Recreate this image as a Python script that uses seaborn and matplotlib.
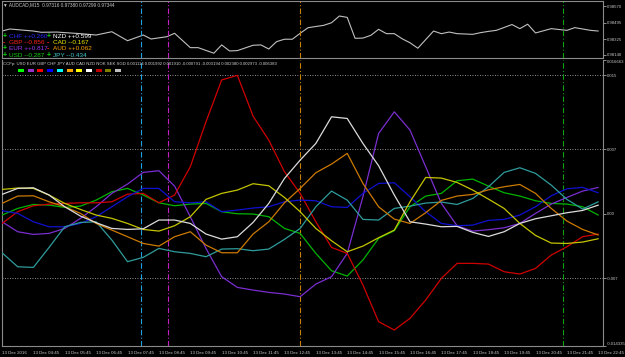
import matplotlib
matplotlib.use("Agg")
import matplotlib.pyplot as plt
import seaborn as sns
import pandas as pd
from matplotlib.patches import Rectangle

sns.set_theme(style="dark")
plt.rcParams['font.family'] = ['Liberation Sans', 'DejaVu Sans']

# ---------------- data ----------------
bars = list(range(0, 77, 2))  # M15 bar index

USD = [-0.00016, 0.00056, 0.00099, 0.00092, 0.00067, 0.00081, 0.00146, 0.00237, 0.00273, 0.00201,
       0.00117, 0.00085, 0.00103, 0.00110, 0.00020, -0.00002, -0.00005, -0.00034, -0.00161, -0.00215,
       -0.00432, -0.00620, -0.00678, -0.00504, -0.00269, -0.00186, 0.00074, 0.00190, 0.00219, 0.00356,
       0.00374, 0.00298, 0.00226, 0.00190, 0.00139, 0.00110, 0.00103, 0.00074, -0.00016]
EUR = [-0.00089, -0.00197, -0.00226, -0.00215, -0.00161, -0.00052, 0.00074, 0.00219, 0.00320, 0.00447,
       0.00465, 0.00298, -0.00034, -0.00378, -0.00685, -0.00801, -0.00830, -0.00855, -0.00873, -0.00902,
       -0.00765, -0.00685, -0.00432, 0.00183, 0.00869, 0.01104, 0.00906, 0.00508, 0.00110, -0.00132,
       -0.00190, -0.00175, -0.00154, -0.00107, 0.00002, 0.00103, 0.00175, 0.00244, 0.00284]
GBP = [-0.00107, 0.00020, 0.00085, 0.00103, 0.00110, 0.00117, 0.00117, 0.00128, 0.00211, 0.00219,
       0.00117, 0.00201, 0.00508, 0.00996, 0.01450, 0.01500, 0.01057, 0.00797, 0.00454, 0.00219,
       -0.00089, -0.00367, -0.00432, -0.00775, -0.01173, -0.01263, -0.01137, -0.00938, -0.00703, -0.00540,
       -0.00540, -0.00548, -0.00631, -0.00656, -0.00595, -0.00450, -0.00360, -0.00251, -0.00222]
CHF = [0.00031, 0.00002, -0.00089, -0.00143, -0.00143, -0.00107, -0.00034, 0.00074, 0.00183, 0.00273,
       0.00273, 0.00128, 0.00117, 0.00128, 0.00020, 0.00038, 0.00060, 0.00074, 0.00128, 0.00146,
       0.00139, 0.00074, 0.00067, 0.00219, 0.00327, 0.00334, 0.00183, 0.00020, -0.00107, -0.00132,
       -0.00125, -0.00074, -0.00063, -0.00016, 0.00074, 0.00193, 0.00269, 0.00284, 0.00226]
JPY = [-0.00425, -0.00577, -0.00584, -0.00367, -0.00143, -0.00096, -0.00089, -0.00287, -0.00522, -0.00475,
       -0.00378, -0.00414, -0.00432, -0.00468, -0.00385, -0.00381, -0.00403, -0.00385, -0.00280, -0.00161,
       0.00074, 0.00244, 0.00146, -0.00063, -0.00070, 0.00056, 0.00081, 0.00114, 0.00125, 0.00099,
       0.00164, 0.00291, 0.00447, 0.00497, 0.00436, 0.00309, 0.00154, 0.00049, 0.00128]
AUD = [0.00110, 0.00190, 0.00193, 0.00128, 0.00074, 0.00002, -0.00107, -0.00179, -0.00251, -0.00324,
       -0.00353, -0.00251, -0.00197, -0.00342, -0.00425, -0.00425, -0.00222, -0.00089, 0.00117, 0.00273,
       0.00443, 0.00537, 0.00653, 0.00327, 0.00074, -0.00060, -0.00107, 0.00009, 0.00143, 0.00190,
       0.00208, 0.00258, 0.00291, 0.00316, 0.00219, 0.00056, -0.00081, -0.00172, -0.00233]
CAD = [0.00262, 0.00277, 0.00273, 0.00201, 0.00110, 0.00045, -0.00016, -0.00052, -0.00107, -0.00172,
       -0.00190, -0.00132, -0.00034, 0.00154, 0.00219, 0.00255, 0.00324, 0.00302, 0.00175, 0.00020,
       -0.00161, -0.00295, -0.00414, -0.00353, -0.00262, -0.00179, 0.00128, 0.00392, 0.00385, 0.00338,
       0.00255, 0.00157, 0.00056, -0.00107, -0.00237, -0.00320, -0.00324, -0.00309, -0.00273]
NZD = [0.00208, 0.00273, 0.00280, 0.00201, 0.00074, -0.00027, -0.00099, -0.00161, -0.00172, -0.00165,
       -0.00070, -0.00070, -0.00107, -0.00222, -0.00277, -0.00251, -0.00096, 0.00110, 0.00381, 0.00580,
       0.00761, 0.01050, 0.01032, 0.00761, 0.00519, 0.00201, -0.00089, -0.00114, -0.00143, -0.00139,
       -0.00204, -0.00248, -0.00197, -0.00107, -0.00056, -0.00024, 0.00009, 0.00034, 0.00092]

price_bars = [0, 1, 2, 4, 5, 7, 8, 10, 12, 14, 16, 18, 19, 21, 22, 24, 25, 27, 28, 29, 30, 32,
              33, 34, 35, 36, 37, 38, 39, 40, 41, 42, 43, 44, 45, 46, 47, 48, 49, 50, 51, 52, 53,
              55, 56, 57, 58, 60, 61, 62, 63, 65, 66, 67, 68, 70, 72, 73, 75, 76]
AUDCAD = [0.98350, 0.98368, 0.98362, 0.98350, 0.98339, 0.98341, 0.98336, 0.98327, 0.98315, 0.98344,
          0.98265, 0.98315, 0.98280, 0.98300, 0.98330, 0.98204, 0.98204, 0.98155, 0.98228, 0.98175,
          0.98178, 0.98225, 0.98228, 0.98192, 0.98257, 0.98278, 0.98278, 0.98330, 0.98379, 0.98390,
          0.98400, 0.98423, 0.98482, 0.98470, 0.98286, 0.98288, 0.98312, 0.98365, 0.98327, 0.98327,
          0.98282, 0.98247, 0.98199, 0.98350, 0.98327, 0.98341, 0.98327, 0.98321, 0.98336, 0.98347,
          0.98356, 0.98407, 0.98371, 0.98410, 0.98333, 0.98371, 0.98356, 0.98380, 0.98356, 0.98350]

xtick_bars = list(range(0, 77, 4))
xtick_labels = ["13 Dec 2016", "13 Dec 04:45", "13 Dec 05:45", "13 Dec 06:45", "13 Dec 07:45",
                "13 Dec 08:45", "13 Dec 09:45", "13 Dec 10:45", "13 Dec 11:45", "13 Dec 12:45",
                "13 Dec 13:45", "13 Dec 14:45", "13 Dec 15:45", "13 Dec 16:45", "13 Dec 17:45",
                "13 Dec 18:45", "13 Dec 19:45", "13 Dec 20:45", "13 Dec 21:45", "13 Dec 22:45"]
main_ticks = [0.016663, 0.015, 0.007, 0.0, -0.007, -0.014335]
main_tick_labels = ["0.016663", "0.015", "0.007", "0.00", "-0.007", "-0.014335"]
top_ticks = [0.98570, 0.98423, 0.98278, 0.98140]
top_tick_labels = ["0.98570", "0.98495", "0.98325", "0.98140"]
levels = [0.015, 0.007, -0.007]
event_bars = [17.7, 21.1, 38.0, 71.5]
event_colors = ["#1e9fe0", "#c020c0", "#c88000", "#10a010"]

legend_rows = [
    [("+", "CHF ++0.260"), ("+", "NZD ++0.599")],
    [("-", "GBP --0.856"), ("-", "CAD --0.167")],
    [("+", "EUR ++0.817"), ("-", "AUD ++0.062")],
    [("+", "USD --0.287"), ("+", "JPY --0.434")],
]
legend_colors = [["#2a2aff", "#ffffff"], ["#ff2020", "#e8e800"],
                 ["#9a3aee", "#ffa000"], ["#10d010", "#40c8c8"]]

header = ("CCFp: USD EUR GBP CHF JPY AUD CAD NZD NOK SEK SGD 0.001114 0.001992 0.001910 "
          "-0.000791 -0.003194 0.002380 0.002973 -0.006383")
box_colors = ["#00ff00", "#9932cc", "#ff0000", "#0000ff", "#00ffff", "#ffa500",
              "#ffff00", "#ffffff", "#c00000", "#808000", "#c0c0c0"]

palette = {"USD": "#00b400", "EUR": "#7a2ed0", "GBP": "#d00000", "CHF": "#1010d0",
           "JPY": "#2f9c9c", "AUD": "#cc7a00", "CAD": "#c4c400", "NZD": "#dcdcdc"}

# ---------------- figure ----------------
W, H = 625, 357
BG = "black"
FG = "#c8c8c8"
SP = "#8a8a8a"
fig = plt.figure(figsize=(W / 100, H / 100), dpi=100, facecolor=BG)


def rect(x0, y0, x1, y1):
    return [x0 / W, 1 - y1 / H, (x1 - x0) / W, (y1 - y0) / H]


ax_top = fig.add_axes(rect(2, 1, 603, 58))
ax = fig.add_axes(rect(2, 60, 603, 345.7))

for a in (ax_top, ax):
    a.set_facecolor(BG)
    for s in a.spines.values():
        s.set_color(SP)
        s.set_linewidth(0.8)
    a.set_xlim(0, 76.6)
    a.grid(False)

# top price panel
price_df = pd.DataFrame({"bar": price_bars, "price": AUDCAD})
sns.lineplot(data=price_df, x="bar", y="price", ax=ax_top, color="#c0c0c0", lw=0.8)
ax_top.set_ylim(0.98113, 0.98614)
ax_top.yaxis.tick_right()
ax_top.set_yticks(top_ticks)
ax_top.set_yticklabels(top_tick_labels)
ax_top.tick_params(axis="y", colors=FG, labelsize=3.1, length=2, width=0.5, pad=0.8)
ax_top.set_xticks([])
ax_top.set_xlabel("")
ax_top.set_ylabel("")

# main oscillator panel
rows = []
for name, vals in [("USD", USD), ("EUR", EUR), ("GBP", GBP), ("CHF", CHF), ("JPY", JPY),
                   ("AUD", AUD), ("CAD", CAD), ("NZD", NZD)]:
    for b, v in zip(bars, vals):
        rows.append((b, v, name))
df = pd.DataFrame(rows, columns=["bar", "value", "currency"])
for lv in levels:
    ax.axhline(lv, color="#bdbdbd", ls=(0, (1, 2)), lw=0.6, zorder=1)
sns.lineplot(data=df, x="bar", y="value", hue="currency", palette=palette, legend=False,
             lw=0.9, ax=ax, estimator=None, sort=False, zorder=3)
ax.set_ylim(-0.014335, 0.016663)
ax.yaxis.tick_right()
ax.set_yticks(main_ticks)
ax.set_yticklabels(main_tick_labels)
ax.tick_params(axis="y", colors=FG, labelsize=3.1, length=2, width=0.5, pad=0.8)
labs = ax.get_yticklabels()
labs[0].set_va("top")
labs[-1].set_va("bottom")
ax.set_xticks(xtick_bars)
ax.set_xticklabels(xtick_labels, ha="left")
ax.tick_params(axis="x", colors=FG, labelsize=3.2, length=2, width=0.5, pad=1.5)
ax.set_xlabel("")
ax.set_ylabel("")
ax.spines["top"].set_visible(False)

for a in (ax_top, ax):
    for xb, c in zip(event_bars, event_colors):
        a.axvline(xb, color=c, ls=(0, (5, 2, 1, 2)), lw=0.8, zorder=2)

# texts
fig.text(3 / W, 1 - 5 / H, "\u25bc AUDCAD,M15  0.97316 0.97380 0.97299 0.97344",
         color=FG, fontsize=3.4, va="center", ha="left")
for r, row in enumerate(legend_rows):
    y = 1 - (36.5 + r * 6.2) / H
    for c, (sign, txt) in enumerate(row):
        x0 = 3 if c == 0 else 47
        fig.text(x0 / W, y, sign, color="#10e010" if sign == "+" else "#ff2020",
                 fontsize=5.0, va="center", ha="left", fontweight="bold")
        fig.text((x0 + 6) / W, y, txt, color=legend_colors[r][c], fontsize=4.6,
                 va="center", ha="left")

fig.text(3 / W, 1 - 64 / H, header, color="#d0d0d0", fontsize=3.1, va="center", ha="left")
for i, col in enumerate(box_colors):
    x0 = 18 + 9.7 * i
    fig.patches.append(Rectangle((x0 / W, 1 - 72 / H), 6 / W, 3 / H, transform=fig.transFigure,
                                 facecolor=col, edgecolor="none"))

fig.savefig("out.png", dpi=100, facecolor=BG)
